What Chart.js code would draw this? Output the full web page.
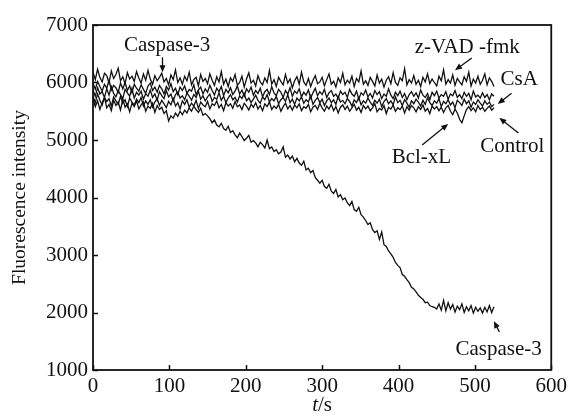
<!DOCTYPE html>
<html>
<head>
<meta charset="utf-8">
<script src="https://cdn.jsdelivr.net/npm/chart.js@4.4.1/dist/chart.umd.min.js"></script>
<style>
  body { margin: 0; background: #fff; }
  canvas { display: block; }
</style>
</head>
<body>
<canvas id="chart" width="571" height="416"></canvas>
<script>
// time axis (s), one sample every 3 s
var time = [0,3,6,9,12,15,18,21,24,27,30,33,36,39,42,45,48,51,54,57,60,63,66,69,72,75,78,81,84,87,
  90,93,96,99,102,105,108,111,114,117,120,123,126,129,132,135,138,141,144,147,150,153,156,159,162,165,168,171,174,177,
  180,183,186,189,192,195,198,201,204,207,210,213,216,219,222,225,228,231,234,237,240,243,246,249,252,255,258,261,264,267,
  270,273,276,279,282,285,288,291,294,297,300,303,306,309,312,315,318,321,324,327,330,333,336,339,342,345,348,351,354,357,
  360,363,366,369,372,375,378,381,384,387,390,393,396,399,402,405,408,411,414,417,420,423,426,429,432,435,438,441,444,447,
  450,453,456,459,462,465,468,471,474,477,480,483,486,489,492,495,498,501,504,507,510,513,516,519,522,525];

var zvad = [6180,6050,6230,6090,6010,6160,6120,5990,6200,6070,
  6140,6250,6030,6100,5980,6170,6060,6110,6020,6190,
  6080,5990,6150,6040,6210,6060,5970,6120,6030,6090,
  6160,6010,6070,5960,6130,6050,6220,6000,6080,5970,
  6110,6030,6180,5960,6050,6090,5940,6140,6020,6070,
  5980,6150,6040,5950,6100,6010,6190,5970,6060,5930,
  6080,6020,6140,5950,6000,6110,5920,6060,6170,5990,
  6040,5940,6120,6010,5960,6080,6000,6210,5970,6050,
  5930,6090,6020,5960,6140,5990,6060,5910,6030,6100,
  5970,6180,6010,5950,6070,5930,6040,6120,5980,6010,
  6090,5940,6050,6150,5970,6020,5920,6080,6000,6160,
  5960,6040,5990,6110,5930,6070,6010,6200,5970,6030,
  5950,6090,6020,5940,6130,5990,6060,5920,6040,6100,
  5980,6170,6000,5950,6080,6030,6240,5960,6050,5990,
  6120,5970,6040,5930,6090,6010,6150,5980,6060,6000,
  5940,6110,6030,6220,5970,6050,5990,6130,5950,6070,
  6010,5960,6100,6020,6180,5940,6060,5990,6110,5970,
  6040,6150,5960,6080,6020,5930];

var csa = [5990,5880,6020,5930,5850,5970,5900,6040,5870,5950,
  5910,5830,5990,5890,6000,5860,5940,5820,5970,5900,
  5850,5960,5880,5810,5940,5990,5860,5920,5830,5950,
  5890,5800,5930,5870,5980,5840,5900,5790,5920,5860,
  5940,5810,5880,5850,5960,5790,5870,5920,5800,5890,
  5830,5950,5860,5780,5900,5840,5930,5770,5880,5820,
  5910,5790,5850,5940,5800,5870,5760,5890,5830,5920,
  5780,5860,5810,5900,5750,5840,5880,5790,5930,5820,
  5770,5880,5830,5740,5860,5800,5910,5760,5850,5810,
  5890,5750,5830,5780,5870,5730,5820,5900,5770,5840,
  5790,5880,5740,5820,5860,5760,5800,5720,5850,5790,
  5830,5740,5880,5800,5760,5850,5710,5820,5780,5870,
  5750,5810,5730,5860,5790,5840,5720,5800,5760,5890,
  5780,5720,5830,5770,5850,5740,5810,5700,5790,5840,
  5760,5820,5730,5870,5780,5740,5810,5700,5830,5770,
  5850,5730,5790,5760,5840,5710,5800,5770,5860,5740,
  5790,5720,5830,5760,5810,5700,5850,5750,5780,5730,
  5820,5740,5790,5700,5800,5760];

var control = [5870,5760,5910,5800,5840,5740,5890,5780,5930,5810,
  5750,5860,5790,5720,5880,5820,5760,5900,5730,5830,
  5780,5850,5710,5810,5760,5870,5740,5800,5690,5840,
  5770,5720,5860,5750,5800,5680,5790,5830,5730,5770,
  5700,5820,5760,5690,5790,5740,5850,5710,5770,5680,
  5750,5800,5670,5740,5710,5820,5690,5760,5650,5730,
  5790,5700,5740,5660,5770,5720,5810,5680,5730,5650,
  5710,5780,5690,5640,5750,5700,5790,5660,5720,5680,
  5760,5630,5700,5740,5670,5790,5650,5710,5620,5730,
  5680,5750,5640,5700,5660,5770,5620,5690,5740,5650,
  5710,5600,5680,5730,5650,5700,5620,5760,5660,5690,
  5630,5720,5670,5590,5700,5650,5740,5610,5680,5640,
  5730,5660,5600,5690,5640,5710,5580,5670,5720,5630,
  5680,5610,5750,5650,5690,5600,5700,5640,5570,5680,
  5630,5710,5660,5590,5690,5620,5740,5650,5600,5680,
  5640,5720,5580,5670,5630,5700,5610,5660,5560,5690,
  5650,5600,5710,5630,5680,5570,5660,5620,5700,5640,
  5590,5680,5620,5660,5580,5620];

var bclxl = [5760,5650,5800,5690,5610,5740,5670,5720,5590,5750,
  5680,5620,5760,5640,5700,5580,5730,5660,5610,5710,
  5650,5740,5590,5680,5620,5700,5570,5660,5720,5600,
  5690,5630,5560,5670,5610,5720,5590,5650,5540,5680,
  5620,5700,5570,5640,5590,5690,5550,5660,5610,5580,
  5670,5540,5630,5600,5680,5560,5620,5510,5650,5590,
  5630,5550,5670,5580,5610,5530,5640,5590,5520,5620,
  5570,5650,5540,5600,5510,5630,5580,5660,5530,5590,
  5550,5620,5500,5580,5640,5540,5600,5520,5610,5560,
  5630,5510,5580,5550,5620,5490,5570,5600,5530,5640,
  5560,5500,5590,5540,5620,5510,5580,5470,5570,5610,
  5530,5590,5500,5560,5620,5520,5570,5480,5600,5540,
  5590,5510,5560,5630,5490,5550,5520,5600,5460,5570,
  5540,5610,5500,5560,5530,5590,5470,5580,5520,5600,
  5560,5490,5580,5530,5610,5500,5550,5460,5590,5540,
  5580,5510,5570,5480,5560,5600,5500,5440,5540,5470,
  5360,5300,5420,5530,5580,5510,5560,5490,5600,5530,
  5570,5500,5550,5590,5520,5560];

var caspase3 = [5720,5580,5680,5530,5650,5740,5560,5620,5510,5690,
  5600,5660,5520,5710,5570,5630,5490,5640,5580,5680,
  5540,5610,5660,5500,5590,5550,5640,5480,5600,5530,
  5570,5460,5510,5330,5420,5380,5470,5410,5500,5440,
  5520,5470,5560,5500,5590,5530,5480,5550,5430,5460,
  5420,5370,5300,5350,5260,5230,5290,5200,5170,5240,
  5130,5160,5090,5040,5120,5060,4990,5030,5080,4960,
  4990,4950,4880,4960,4920,4860,5000,4850,4880,4800,
  4830,4760,4790,4880,4700,4740,4670,4720,4620,4680,
  4600,4560,4630,4480,4510,4430,4470,4350,4300,4250,
  4300,4190,4160,4230,4110,4070,4140,4010,4050,3960,
  3990,3910,3860,3930,3790,3760,3830,3700,3660,3600,
  3530,3560,3440,3390,3420,3270,3400,3180,3150,3070,
  3020,2960,2870,2820,2780,2660,2630,2570,2520,2440,
  2410,2360,2300,2260,2230,2170,2180,2120,2100,2090,
  2060,2150,2040,2210,2030,2170,2060,2140,2010,2110,
  2050,2150,2000,2100,2030,2120,1990,2090,2020,2080,
  1990,2090,2010,2120,2000,2100];

var seriesNames = ["z-VAD-fmk", "CsA", "Control", "Bcl-xL", "Caspase-3"];
var seriesValues = [zvad, csa, control, bclxl, caspase3];

var xTicks = [0, 100, 200, 300, 400, 500, 600];
var yTicks = [1000, 2000, 3000, 4000, 5000, 6000, 7000];

// labels + arrows, in data units (text x/y, arrow from -> to)
var notes = [
  { text: "Caspase-3",  tx: 97,  ty: 6650, ax0: 91,  ay0: 6440, ax1: 91,  ay1: 6180 },
  { text: "z-VAD -fmk", tx: 490, ty: 6615, ax0: 496, ay0: 6425, ax1: 474, ay1: 6215 },
  { text: "CsA",        tx: 558, ty: 6045, ax0: 548, ay0: 5815, ax1: 530, ay1: 5625 },
  { text: "Control",    tx: 549, ty: 4880, ax0: 557, ay0: 5120, ax1: 532, ay1: 5385 },
  { text: "Bcl-xL",     tx: 430, ty: 4690, ax0: 431, ay0: 4915, ax1: 465, ay1: 5280 },
  { text: "Caspase-3",  tx: 531, ty: 1350, ax0: 532, ay0: 1660, ax1: 525, ay1: 1850 }
];

var FONT = "'Liberation Serif', 'Times New Roman', serif";
var INK = "#111";

var datasets = seriesValues.map(function(vals, k) {
  return {
    label: seriesNames[k],
    data: time.map(function(t, i) { return { x: t, y: vals[i] }; }),
    borderColor: INK,
    borderWidth: 1.3,
    pointRadius: 0,
    fill: false,
    tension: 0
  };
});

function arrow(ctx, x0, y0, x1, y1) {
  var ang = Math.atan2(y1 - y0, x1 - x0);
  var len = 7, half = 3;
  ctx.beginPath();
  ctx.moveTo(x0, y0);
  ctx.lineTo(x1 - Math.cos(ang) * len * 0.6, y1 - Math.sin(ang) * len * 0.6);
  ctx.stroke();
  ctx.beginPath();
  ctx.moveTo(x1, y1);
  ctx.lineTo(x1 - Math.cos(ang) * len + Math.sin(ang) * half, y1 - Math.sin(ang) * len - Math.cos(ang) * half);
  ctx.lineTo(x1 - Math.cos(ang) * len - Math.sin(ang) * half, y1 - Math.sin(ang) * len + Math.cos(ang) * half);
  ctx.closePath();
  ctx.fill();
}

var overlay = {
  id: "overlay",
  afterDraw: function(chart) {
    var ctx = chart.ctx, a = chart.chartArea;
    var xs = chart.scales.x, ys = chart.scales.y;
    ctx.save();
    ctx.strokeStyle = INK;
    ctx.fillStyle = INK;

    // frame
    ctx.lineWidth = 1.8;
    ctx.strokeRect(a.left, a.top, a.right - a.left, a.bottom - a.top);

    // inward ticks
    ctx.lineWidth = 1.5;
    ctx.beginPath();
    yTicks.forEach(function(v) {
      var py = Math.round(ys.getPixelForValue(v)) + 0.5;
      ctx.moveTo(a.left, py); ctx.lineTo(a.left + 5, py);
    });
    xTicks.forEach(function(v) {
      var px = Math.round(xs.getPixelForValue(v)) + 0.5;
      ctx.moveTo(px, a.bottom); ctx.lineTo(px, a.bottom - 5);
    });
    ctx.stroke();

    // annotations
    ctx.font = "21px " + FONT;
    ctx.textAlign = "center";
    ctx.textBaseline = "middle";
    ctx.lineWidth = 1.3;
    notes.forEach(function(n) {
      ctx.fillText(n.text, xs.getPixelForValue(n.tx), ys.getPixelForValue(n.ty));
      arrow(ctx, xs.getPixelForValue(n.ax0), ys.getPixelForValue(n.ay0),
                 xs.getPixelForValue(n.ax1), ys.getPixelForValue(n.ay1));
    });

    // x title: italic t + "/s"
    ctx.textAlign = "left";
    ctx.textBaseline = "alphabetic";
    ctx.font = "italic 21px " + FONT;
    var wt = ctx.measureText("t").width;
    ctx.font = "21px " + FONT;
    var ws = ctx.measureText("/s").width;
    var cx = (a.left + a.right) / 2;
    var x0 = cx - (wt + ws) / 2;
    ctx.font = "italic 21px " + FONT;
    ctx.fillText("t", x0, 411);
    ctx.font = "21px " + FONT;
    ctx.fillText("/s", x0 + wt, 411);
    ctx.restore();
  }
};

function plain(v) { return String(v); }

new Chart(document.getElementById("chart"), {
  type: "line",
  data: { datasets: datasets },
  options: {
    responsive: false,
    animation: false,
    events: [],
    layout: { padding: { left: 0, right: 16, top: 25, bottom: 0 } },
    plugins: { legend: { display: false }, tooltip: { enabled: false } },
    scales: {
      x: {
        type: "linear",
        min: 0, max: 600,
        afterBuildTicks: function(scale) { scale.ticks = xTicks.map(function(v) { return { value: v }; }); },
        afterFit: function(scale) { scale.height = 46; },
        grid: { display: false, drawTicks: false },
        border: { display: false },
        ticks: { color: INK, font: { family: FONT, size: 21 }, padding: 4, maxRotation: 0, autoSkip: false, callback: plain }
      },
      y: {
        min: 1000, max: 7000,
        afterBuildTicks: function(scale) { scale.ticks = yTicks.map(function(v) { return { value: v }; }); },
        afterFit: function(scale) { scale.width = 93; },
        grid: { display: false, drawTicks: false },
        border: { display: false },
        title: { display: true, text: "Fluorescence intensity", color: INK, font: { family: FONT, size: 19.5 }, padding: { top: 8, bottom: 4 } },
        ticks: { color: INK, font: { family: FONT, size: 21 }, padding: 5, callback: plain }
      }
    }
  },
  plugins: [overlay]
});
</script>
</body>
</html>
